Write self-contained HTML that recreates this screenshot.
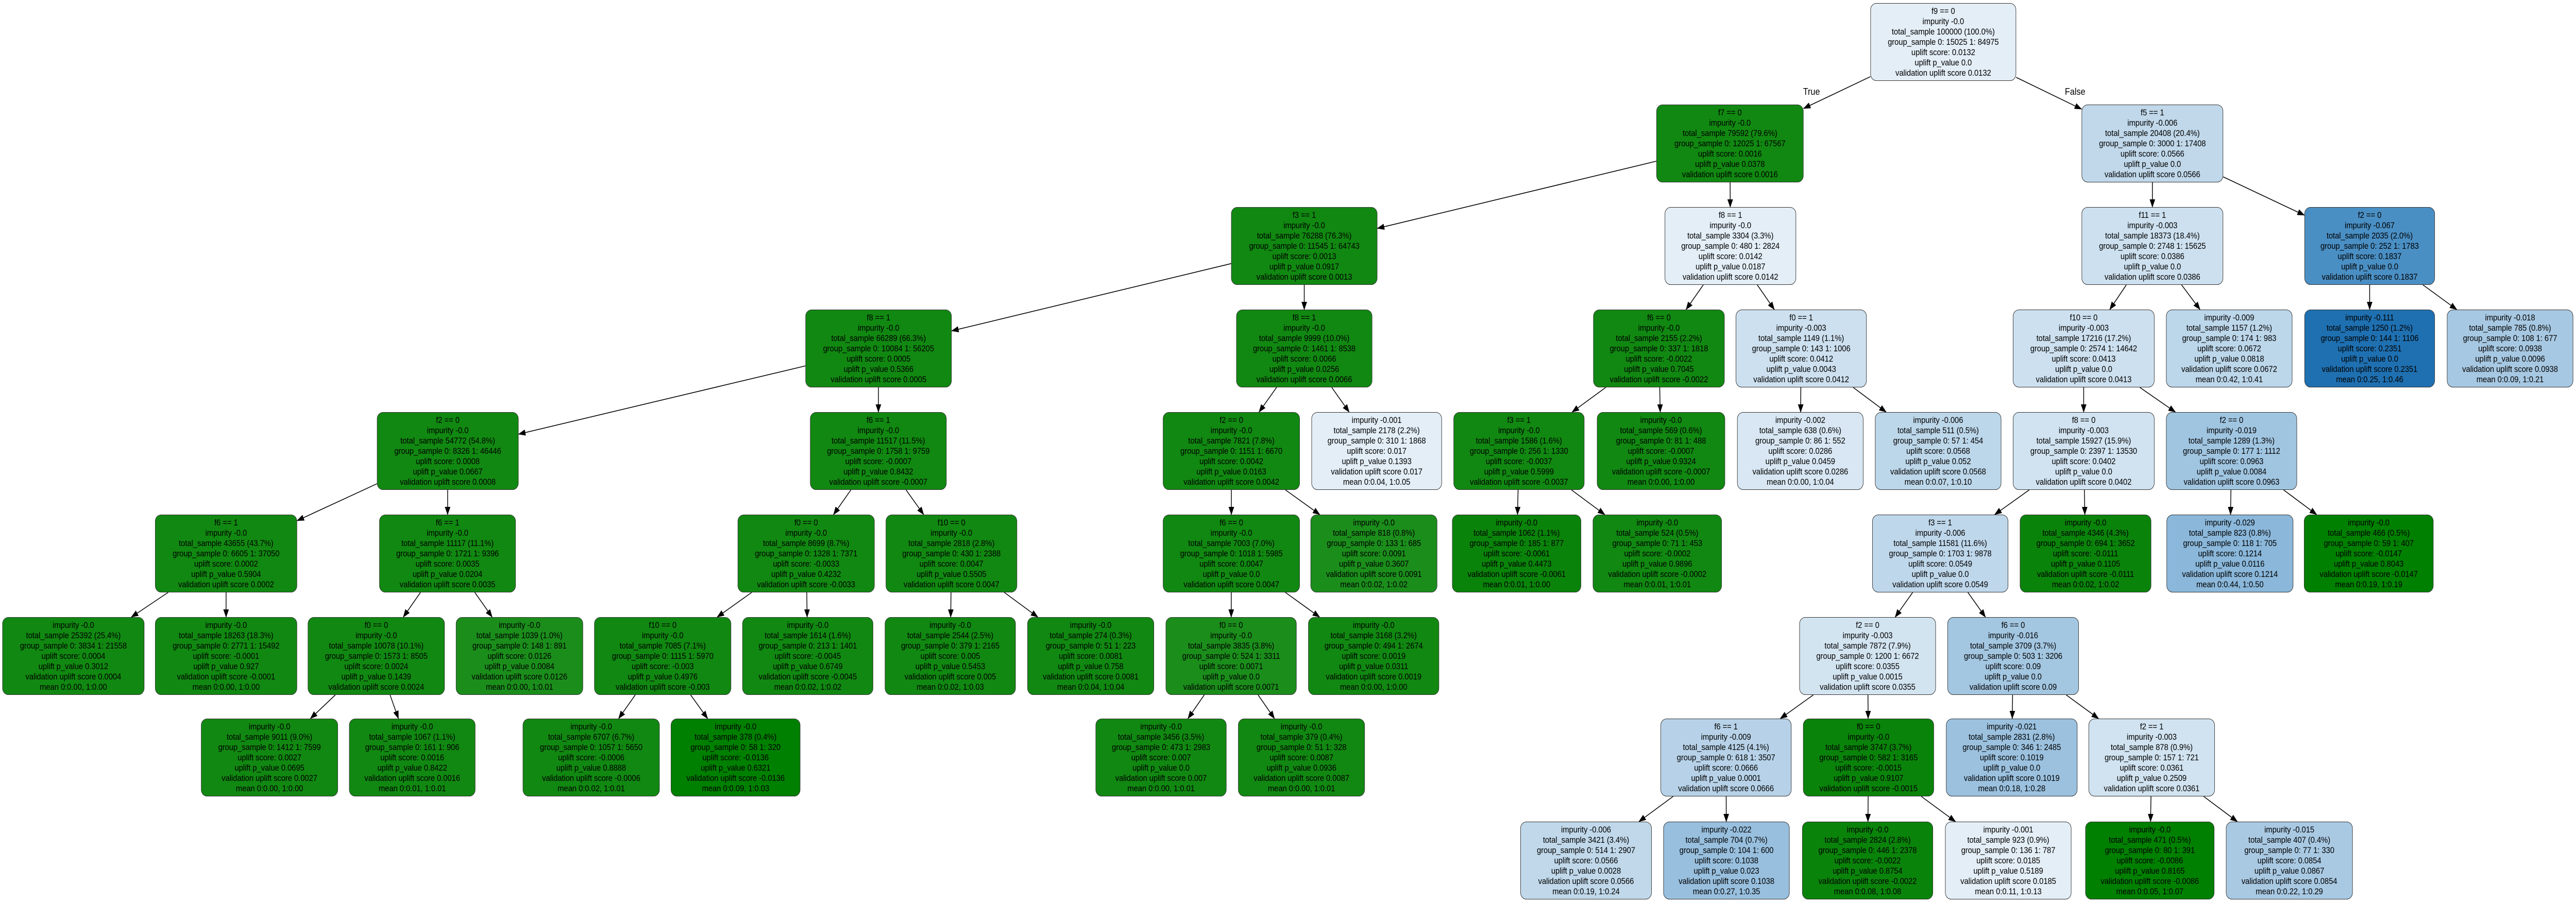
<!DOCTYPE html>
<html><head><meta charset="utf-8">
<style>
html,body{margin:0;padding:0;background:#fff;overflow:hidden;}
body{width:5549px;height:1751px;position:relative;font-family:"Liberation Sans",Arial,sans-serif;}
#w{position:absolute;left:0;top:0;width:5549px;height:1751px;transform-origin:0 0;overflow:hidden;}
.n{position:absolute;box-sizing:border-box;border:1.4px solid #333;border-radius:13px;display:flex;flex-direction:column;justify-content:center;align-items:center;font-size:16.5px;letter-spacing:-0.1px;line-height:20px;color:#000;text-align:center;white-space:nowrap;overflow:hidden;}
svg{position:absolute;left:0;top:0;}
.lbl{position:absolute;font-size:18px;}
</style></head><body>
<div id="w">
<svg id="s" width="5549" height="1751"><defs><marker id="a" markerWidth="16" markerHeight="12" refX="15" refY="6" orient="auto" markerUnits="userSpaceOnUse"><path d="M0,0 L16,6 L0,12 z" fill="#000"/></marker></defs></svg>
<div class="lbl" style="left:3884px;top:168px">True</div>
<div class="lbl" style="left:4448px;top:168px">False</div>
<div id="c"></div>
</div>
<script>
var LY=[6,203,402,601,800,999,1198,1395,1595],H=151;
var G="#118811",D="#0a830a",L="#1b8d1b";
var N={
root:[4029,4343,0,"#e4eef7","f9 == 0|impurity -0.0|total_sample 100000 (100.0%)|group_sample  0: 15025 1: 84975|uplift score: 0.0132|uplift p_value 0.0|validation uplift score 0.0132"],
f7:[3568,3885,1,G,"f7 == 0|impurity -0.0|total_sample 79592 (79.6%)|group_sample  0: 12025 1: 67567|uplift score: 0.0016|uplift p_value 0.0378|validation uplift score 0.0016"],
f5:[4484,4789,1,"#c0d8ea","f5 == 1|impurity -0.006|total_sample 20408 (20.4%)|group_sample  0: 3000 1: 17408|uplift score: 0.0566|uplift p_value 0.0|validation uplift score 0.0566"],
a2:[2652,2967,2,G,"f3 == 1|impurity -0.0|total_sample 76288 (76.3%)|group_sample  0: 11545 1: 64743|uplift score: 0.0013|uplift p_value 0.0917|validation uplift score 0.0013"],
b2:[3586,3869,2,"#e3eef7","f8 == 1|impurity -0.0|total_sample 3304 (3.3%)|group_sample  0: 480 1: 2824|uplift score: 0.0142|uplift p_value 0.0187|validation uplift score 0.0142"],
c2:[4484,4789,2,"#cde0ef","f11 == 1|impurity -0.003|total_sample 18373 (18.4%)|group_sample  0: 2748 1: 15625|uplift score: 0.0386|uplift p_value 0.0|validation uplift score 0.0386"],
d2:[4964,5245,2,"#4a8fc4","f2 == 0|impurity -0.067|total_sample 2035 (2.0%)|group_sample  0: 252 1: 1783|uplift score: 0.1837|uplift p_value 0.0|validation uplift score 0.1837"],
a3:[1735,2050,3,G,"f8 == 1|impurity -0.0|total_sample 66289 (66.3%)|group_sample  0: 10084 1: 56205|uplift score: 0.0005|uplift p_value 0.5366|validation uplift score 0.0005"],
b3:[2663,2956,3,G,"f8 == 1|impurity -0.0|total_sample 9999 (10.0%)|group_sample  0: 1461 1: 8538|uplift score: 0.0066|uplift p_value 0.0256|validation uplift score 0.0066"],
c3:[3432,3715,3,G,"f6 == 0|impurity -0.0|total_sample 2155 (2.2%)|group_sample  0: 337 1: 1818|uplift score: -0.0022|uplift p_value 0.7045|validation uplift score -0.0022"],
d3:[3739,4021,3,"#cde0ef","f0 == 1|impurity -0.003|total_sample 1149 (1.1%)|group_sample  0: 143 1: 1006|uplift score: 0.0412|uplift p_value 0.0043|validation uplift score 0.0412"],
e3:[4336,4641,3,"#cde0ef","f10 == 0|impurity -0.003|total_sample 17216 (17.2%)|group_sample  0: 2574 1: 14642|uplift score: 0.0413|uplift p_value 0.0|validation uplift score 0.0413"],
f3:[4666,4938,3,"#bcd6ea","impurity -0.009|total_sample 1157 (1.2%)|group_sample  0: 174 1: 983|uplift score: 0.0672|uplift p_value 0.0818|validation uplift score 0.0672|mean 0:0.42, 1:0.41"],
g3:[4964,5245,3,"#1f70b1","impurity -0.111|total_sample 1250 (1.2%)|group_sample  0: 144 1: 1106|uplift score: 0.2351|uplift p_value 0.0|validation uplift score 0.2351|mean 0:0.25, 1:0.46"],
h3:[5271,5543,3,"#a7c8e2","impurity -0.018|total_sample 785 (0.8%)|group_sample  0: 108 1: 677|uplift score: 0.0938|uplift p_value 0.0096|validation uplift score 0.0938|mean 0:0.09, 1:0.21"],
a4:[812,1117,4,G,"f2 == 0|impurity -0.0|total_sample 54772 (54.8%)|group_sample  0: 8326 1: 46446|uplift score: 0.0008|uplift p_value 0.0667|validation uplift score 0.0008"],
b4:[1745,2039,4,G,"f6 == 1|impurity -0.0|total_sample 11517 (11.5%)|group_sample  0: 1758 1: 9759|uplift score: -0.0007|uplift p_value 0.8432|validation uplift score -0.0007"],
c4:[2505,2800,4,G,"f2 == 0|impurity -0.0|total_sample 7821 (7.8%)|group_sample  0: 1151 1: 6670|uplift score: 0.0042|uplift p_value 0.0163|validation uplift score 0.0042"],
d4:[2825,3106,4,"#e3eef7","impurity -0.001|total_sample 2178 (2.2%)|group_sample  0: 310 1: 1868|uplift score: 0.017|uplift p_value 0.1393|validation uplift score 0.017|mean 0:0.04, 1:0.05"],
e4:[3131,3413,4,G,"f3 == 1|impurity -0.0|total_sample 1586 (1.6%)|group_sample  0: 256 1: 1330|uplift score: -0.0037|uplift p_value 0.5999|validation uplift score -0.0037"],
f4:[3440,3716,4,G,"impurity -0.0|total_sample 569 (0.6%)|group_sample  0: 81 1: 488|uplift score: -0.0007|uplift p_value 0.9324|validation uplift score -0.0007|mean 0:0.00, 1:0.00"],
g4:[3742,4014,4,"#d8e7f3","impurity -0.002|total_sample 638 (0.6%)|group_sample  0: 86 1: 552|uplift score: 0.0286|uplift p_value 0.0459|validation uplift score 0.0286|mean 0:0.00, 1:0.04"],
h4:[4039,4311,4,"#bdd7ea","impurity -0.006|total_sample 511 (0.5%)|group_sample  0: 57 1: 454|uplift score: 0.0568|uplift p_value 0.052|validation uplift score 0.0568|mean 0:0.07, 1:0.10"],
i4:[4336,4641,4,"#d1e3f1","f8 == 0|impurity -0.003|total_sample 15927 (15.9%)|group_sample  0: 2397 1: 13530|uplift score: 0.0402|uplift p_value 0.0|validation uplift score 0.0402"],
j4:[4666,4948,4,"#a0c5e1","f2 == 0|impurity -0.019|total_sample 1289 (1.3%)|group_sample  0: 177 1: 1112|uplift score: 0.0963|uplift p_value 0.0084|validation uplift score 0.0963"],
a5:[334,640,5,G,"f6 == 1|impurity -0.0|total_sample 43655 (43.7%)|group_sample  0: 6605 1: 37050|uplift score: 0.0002|uplift p_value 0.5904|validation uplift score 0.0002"],
b5:[817,1111,5,G,"f6 == 1|impurity -0.0|total_sample 11117 (11.1%)|group_sample  0: 1721 1: 9396|uplift score: 0.0035|uplift p_value 0.0204|validation uplift score 0.0035"],
c5:[1589,1884,5,G,"f0 == 0|impurity -0.0|total_sample 8699 (8.7%)|group_sample  0: 1328 1: 7371|uplift score: -0.0033|uplift p_value 0.4232|validation uplift score -0.0033"],
d5:[1908,2191,5,G,"f10 == 0|impurity -0.0|total_sample 2818 (2.8%)|group_sample  0: 430 1: 2388|uplift score: 0.0047|uplift p_value 0.5505|validation uplift score 0.0047"],
e5:[2505,2800,5,G,"f6 == 0|impurity -0.0|total_sample 7003 (7.0%)|group_sample  0: 1018 1: 5985|uplift score: 0.0047|uplift p_value 0.0|validation uplift score 0.0047"],
f5b:[2823,3096,5,L,"impurity -0.0|total_sample 818 (0.8%)|group_sample  0: 133 1: 685|uplift score: 0.0091|uplift p_value 0.3607|validation uplift score 0.0091|mean 0:0.02, 1:0.02"],
g5:[3128,3406,5,D,"impurity -0.0|total_sample 1062 (1.1%)|group_sample  0: 185 1: 877|uplift score: -0.0061|uplift p_value 0.4473|validation uplift score -0.0061|mean 0:0.01, 1:0.00"],
h5:[3431,3709,5,G,"impurity -0.0|total_sample 524 (0.5%)|group_sample  0: 71 1: 453|uplift score: -0.0002|uplift p_value 0.9896|validation uplift score -0.0002|mean 0:0.01, 1:0.01"],
i5:[4033,4326,5,"#bfd7eb","f3 == 1|impurity -0.006|total_sample 11581 (11.6%)|group_sample  0: 1703 1: 9878|uplift score: 0.0549|uplift p_value 0.0|validation uplift score 0.0549"],
j5:[4351,4634,5,D,"impurity -0.0|total_sample 4346 (4.3%)|group_sample  0: 694 1: 3652|uplift score: -0.0111|uplift p_value 0.1105|validation uplift score -0.0111|mean 0:0.02, 1:0.02"],
k5:[4667,4940,5,"#8ab7da","impurity -0.029|total_sample 823 (0.8%)|group_sample  0: 118 1: 705|uplift score: 0.1214|uplift p_value 0.0116|validation uplift score 0.1214|mean 0:0.44, 1:0.50"],
l5:[4963,5242,5,"#008000","impurity -0.0|total_sample 466 (0.5%)|group_sample  0: 59 1: 407|uplift score: -0.0147|uplift p_value 0.8043|validation uplift score -0.0147|mean 0:0.19, 1:0.19"],
a6:[5,311,6,G,"impurity -0.0|total_sample 25392 (25.4%)|group_sample  0: 3834 1: 21558|uplift score: 0.0004|uplift p_value 0.3012|validation uplift score 0.0004|mean 0:0.00, 1:0.00"],
b6:[334,640,6,G,"impurity -0.0|total_sample 18263 (18.3%)|group_sample  0: 2771 1: 15492|uplift score: -0.0001|uplift p_value 0.927|validation uplift score -0.0001|mean 0:0.00, 1:0.00"],
c6:[663,958,6,G,"f0 == 0|impurity -0.0|total_sample 10078 (10.1%)|group_sample  0: 1573 1: 8505|uplift score: 0.0024|uplift p_value 0.1439|validation uplift score 0.0024"],
d6:[982,1256,6,L,"impurity -0.0|total_sample 1039 (1.0%)|group_sample  0: 148 1: 891|uplift score: 0.0126|uplift p_value 0.0084|validation uplift score 0.0126|mean 0:0.00, 1:0.01"],
e6:[1280,1575,6,G,"f10 == 0|impurity -0.0|total_sample 7085 (7.1%)|group_sample  0: 1115 1: 5970|uplift score: -0.003|uplift p_value 0.4976|validation uplift score -0.003"],
f6:[1599,1881,6,G,"impurity -0.0|total_sample 1614 (1.6%)|group_sample  0: 213 1: 1401|uplift score: -0.0045|uplift p_value 0.6749|validation uplift score -0.0045|mean 0:0.02, 1:0.02"],
g6:[1906,2188,6,G,"impurity -0.0|total_sample 2544 (2.5%)|group_sample  0: 379 1: 2165|uplift score: 0.005|uplift p_value 0.5453|validation uplift score 0.005|mean 0:0.02, 1:0.03"],
h6:[2213,2486,6,G,"impurity -0.0|total_sample 274 (0.3%)|group_sample  0: 51 1: 223|uplift score: 0.0081|uplift p_value 0.758|validation uplift score 0.0081|mean 0:0.04, 1:0.04"],
i6:[2511,2793,6,L,"f0 == 0|impurity -0.0|total_sample 3835 (3.8%)|group_sample  0: 524 1: 3311|uplift score: 0.0071|uplift p_value 0.0|validation uplift score 0.0071"],
j6:[2818,3100,6,G,"impurity -0.0|total_sample 3168 (3.2%)|group_sample  0: 494 1: 2674|uplift score: 0.0019|uplift p_value 0.0311|validation uplift score 0.0019|mean 0:0.00, 1:0.00"],
k6:[3876,4170,6,"#d3e4f1","f2 == 0|impurity -0.003|total_sample 7872 (7.9%)|group_sample  0: 1200 1: 6672|uplift score: 0.0355|uplift p_value 0.0015|validation uplift score 0.0355"],
l6:[4195,4478,6,"#a3c6e1","f6 == 0|impurity -0.016|total_sample 3709 (3.7%)|group_sample  0: 503 1: 3206|uplift score: 0.09|uplift p_value 0.0|validation uplift score 0.09"],
a7:[433,728,7,G,"impurity -0.0|total_sample 9011 (9.0%)|group_sample  0: 1412 1: 7599|uplift score: 0.0027|uplift p_value 0.0695|validation uplift score 0.0027|mean 0:0.00, 1:0.00"],
b7:[752,1024,7,G,"impurity -0.0|total_sample 1067 (1.1%)|group_sample  0: 161 1: 906|uplift score: 0.0016|uplift p_value 0.8422|validation uplift score 0.0016|mean 0:0.01, 1:0.01"],
c7:[1126,1421,7,G,"impurity -0.0|total_sample 6707 (6.7%)|group_sample  0: 1057 1: 5650|uplift score: -0.0006|uplift p_value 0.8888|validation uplift score -0.0006|mean 0:0.02, 1:0.01"],
d7:[1445,1724,7,"#008000","impurity -0.0|total_sample 378 (0.4%)|group_sample  0: 58 1: 320|uplift score: -0.0136|uplift p_value 0.6321|validation uplift score -0.0136|mean 0:0.09, 1:0.03"],
e7:[2360,2642,7,G,"impurity -0.0|total_sample 3456 (3.5%)|group_sample  0: 473 1: 2983|uplift score: 0.007|uplift p_value 0.0|validation uplift score 0.007|mean 0:0.00, 1:0.01"],
f7b:[2667,2940,7,G,"impurity -0.0|total_sample 379 (0.4%)|group_sample  0: 51 1: 328|uplift score: 0.0087|uplift p_value 0.0936|validation uplift score 0.0087|mean 0:0.00, 1:0.01"],
g7:[3577,3859,7,"#b7d2e8","f6 == 1|impurity -0.009|total_sample 4125 (4.1%)|group_sample  0: 618 1: 3507|uplift score: 0.0666|uplift p_value 0.0001|validation uplift score 0.0666"],
h7:[3884,4166,7,D,"f0 == 0|impurity -0.0|total_sample 3747 (3.7%)|group_sample  0: 582 1: 3165|uplift score: -0.0015|uplift p_value 0.9107|validation uplift score -0.0015"],
i7:[4192,4475,7,"#9bc1df","impurity -0.021|total_sample 2831 (2.8%)|group_sample  0: 346 1: 2485|uplift score: 0.1019|uplift p_value 0.0|validation uplift score 0.1019|mean 0:0.18, 1:0.28"],
j7:[4499,4771,7,"#d1e3f0","f2 == 1|impurity -0.003|total_sample 878 (0.9%)|group_sample  0: 157 1: 721|uplift score: 0.0361|uplift p_value 0.2509|validation uplift score 0.0361"],
a8:[3275,3558,8,"#c0d8ea","impurity -0.006|total_sample 3421 (3.4%)|group_sample  0: 514 1: 2907|uplift score: 0.0566|uplift p_value 0.0028|validation uplift score 0.0566|mean 0:0.19, 1:0.24"],
b8:[3583,3855,8,"#98bfde","impurity -0.022|total_sample 704 (0.7%)|group_sample  0: 104 1: 600|uplift score: 0.1038|uplift p_value 0.023|validation uplift score 0.1038|mean 0:0.27, 1:0.35"],
c8:[3882,4164,8,D,"impurity -0.0|total_sample 2824 (2.8%)|group_sample  0: 446 1: 2378|uplift score: -0.0022|uplift p_value 0.8754|validation uplift score -0.0022|mean 0:0.08, 1:0.08"],
d8:[4190,4462,8,"#e4eef6","impurity -0.001|total_sample 923 (0.9%)|group_sample  0: 136 1: 787|uplift score: 0.0185|uplift p_value 0.5189|validation uplift score 0.0185|mean 0:0.11, 1:0.13"],
e8:[4492,4770,8,"#008000","impurity -0.0|total_sample 471 (0.5%)|group_sample  0: 80 1: 391|uplift score: -0.0086|uplift p_value 0.8165|validation uplift score -0.0086|mean 0:0.05, 1:0.07"],
f8:[4795,5068,8,"#a9c9e3","impurity -0.015|total_sample 407 (0.4%)|group_sample  0: 77 1: 330|uplift score: 0.0854|uplift p_value 0.0867|validation uplift score 0.0854|mean 0:0.22, 1:0.29"]
};
var E=[["root","f7"],["root","f5"],["f7","a2"],["f7","b2"],["f5","c2"],["f5","d2"],["a2","a3"],["a2","b3"],["b2","c3"],["b2","d3"],["c2","e3"],["c2","f3"],["d2","g3"],["d2","h3"],["a3","a4"],["a3","b4"],["b3","c4"],["b3","d4"],["c3","e4"],["c3","f4"],["d3","g4"],["d3","h4"],["e3","i4"],["e3","j4"],["a4","a5"],["a4","b5"],["b4","c5"],["b4","d5"],["c4","e5"],["c4","f5b"],["e4","g5"],["e4","h5"],["i4","i5"],["i4","j5"],["j4","k5"],["j4","l5"],["a5","a6"],["a5","b6"],["b5","c6"],["b5","d6"],["c5","e6"],["c5","f6"],["d5","g6"],["d5","h6"],["e5","i6"],["e5","j6"],["i5","k6"],["i5","l6"],["c6","a7"],["c6","b7"],["e6","c7"],["e6","d7"],["i6","e7"],["i6","f7b"],["k6","g7"],["k6","h7"],["l6","i7"],["l6","j7"],["g7","a8"],["g7","b8"],["h7","c8"],["h7","d8"],["j7","e8"],["j7","f8"]];
var c=document.getElementById("c"),h="";
for(var k in N){var n=N[k],y=LY[n[2]];
h+='<div class="n" style="left:'+n[0]+'px;top:'+y+'px;width:'+(n[1]-n[0])+'px;height:'+H+'px;background:'+n[3]+'">'+n[4].split("|").join("<br>")+'</div>';}
c.innerHTML=h;
function clip(n,dx,dy){var hw=(n[1]-n[0])/2,hh=H/2;return Math.min(Math.abs(dx)>0?hw/Math.abs(dx):1e9,Math.abs(dy)>0?hh/Math.abs(dy):1e9);}
var s=document.getElementById("s"),ns="http://www.w3.org/2000/svg";
E.forEach(function(e){var p=N[e[0]],q=N[e[1]];
var px=(p[0]+p[1])/2,py=LY[p[2]]+H/2,qx=(q[0]+q[1])/2,qy=LY[q[2]]+H/2;
var dx=qx-px,dy=qy-py;var t1=clip(p,dx,dy),t2=clip(q,dx,dy);
var l=document.createElementNS(ns,"line");
l.setAttribute("x1",px+dx*t1);l.setAttribute("y1",py+dy*t1);
l.setAttribute("x2",qx-dx*t2);l.setAttribute("y2",qy-dy*t2);
l.setAttribute("stroke","#000");l.setAttribute("stroke-width","1.6");l.setAttribute("marker-end","url(#a)");
s.appendChild(l);});
var vw=window.innerWidth||5549,vh=window.innerHeight||1751;
var sx=vw/5549,sy=vh/1751;
if(Math.abs(sx-1)>0.002||Math.abs(sy-1)>0.002){document.getElementById("w").style.transform="scale("+sx+","+sy+")";document.body.style.width=vw+"px";document.body.style.height=vh+"px";}
</script>
</body></html>
